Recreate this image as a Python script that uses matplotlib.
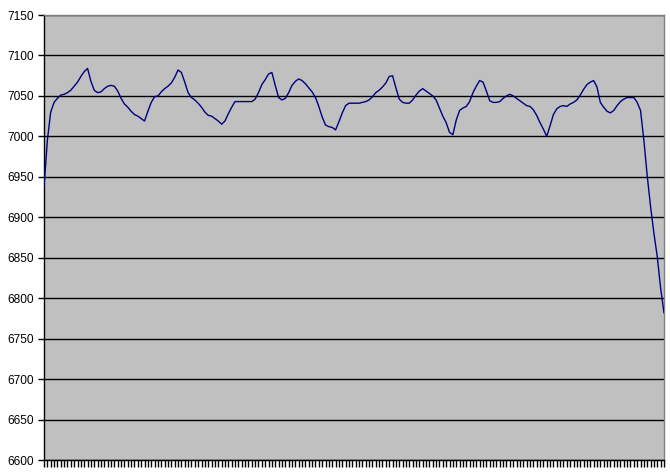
import numpy as np
import matplotlib
matplotlib.use("Agg")
import matplotlib.pyplot as plt

# values, one per category
values = [
    6937, 6995, 7030, 7042, 7047, 7051, 7052, 7054, 7057, 7062,
    7067, 7074, 7080, 7084, 7068, 7057, 7054, 7055, 7059, 7062,
    7063, 7062, 7056, 7047, 7040, 7036, 7031, 7027, 7025, 7022,
    7019, 7031, 7042, 7049, 7050, 7055, 7059, 7062, 7066, 7073,
    7082, 7079, 7067, 7054, 7048, 7045, 7041, 7036, 7030, 7026,
    7025, 7022, 7019, 7015, 7019, 7028, 7036, 7043, 7043, 7043,
    7043, 7043, 7043, 7046, 7054, 7064, 7070, 7077, 7079, 7063,
    7048, 7045, 7047, 7054, 7063, 7068, 7071, 7069, 7065, 7060,
    7055, 7048, 7037, 7024, 7014, 7012, 7011, 7008, 7018, 7029,
    7038, 7041, 7041, 7041, 7041, 7042, 7043, 7045, 7049, 7054,
    7057, 7061, 7066, 7074, 7075, 7060, 7046, 7042, 7041, 7041,
    7045, 7051, 7056, 7059, 7056, 7053, 7050, 7045, 7035, 7025,
    7017, 7005, 7002, 7020, 7032, 7035, 7037, 7043, 7054, 7062,
    7069, 7067, 7056, 7044, 7042, 7042, 7043, 7047, 7050, 7052,
    7050, 7047, 7044, 7041, 7038, 7037, 7033, 7026, 7017, 7009,
    7000, 7013, 7027, 7034, 7037, 7038, 7037, 7040, 7042, 7045,
    7051, 7058, 7064, 7067, 7069, 7061, 7042, 7036, 7031, 7029,
    7032, 7038, 7043, 7046, 7048, 7048, 7048, 7042, 7032, 6995,
    6951, 6913, 6880, 6851, 6812, 6782,
]
y_ticks = list(range(6600, 7151, 50))

plt.rcParams['font.family'] = ['Liberation Sans', 'DejaVu Sans']

fig = plt.figure(figsize=(6.7, 4.73), dpi=100)
ax = fig.add_axes([44 / 670, 13 / 473, 620 / 670, 445 / 473])
ax.set_facecolor('#c0c0c0')

x = np.arange(len(values))
ax.plot(x, values, color='#000080', lw=1.0, zorder=3)

ax.set_xlim(0, len(values) - 1)
ax.set_ylim(6600, 7150)
ax.set_yticks(y_ticks)
ax.set_yticklabels([str(v) for v in y_ticks], fontsize=8.6)
ax.set_xticks(x)
ax.set_xticklabels([])
ax.tick_params(axis='y', direction='out', length=4, width=1, pad=3)
ax.tick_params(axis='x', direction='out', length=5, width=1)

ax.yaxis.grid(True, color='black', lw=1)
ax.set_axisbelow(True)

ax.spines['left'].set_color('black')
ax.spines['bottom'].set_color('black')
ax.spines['top'].set_color('#808080')
ax.spines['right'].set_color('#808080')
for s in ax.spines.values():
    s.set_linewidth(1)

fig.savefig('out.png', dpi=100)
